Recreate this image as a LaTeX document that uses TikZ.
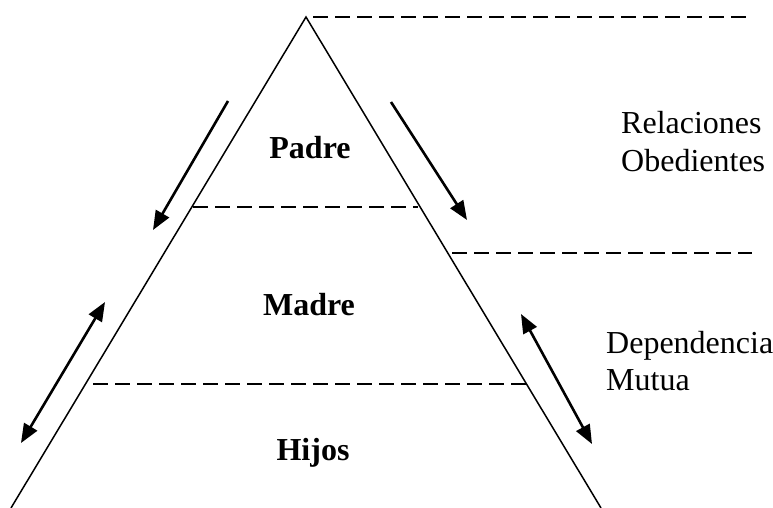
\documentclass[tikz,border=0pt]{standalone}
\usepackage{fontspec}
\setmainfont{Liberation Serif}
\usetikzlibrary{arrows.meta}
\begin{document}
\begin{tikzpicture}[x=1pt,y=-1pt,
  side/.style={line width=1.5pt},
  sep/.style={line width=2pt, dash pattern=on 15pt off 7pt},
  flow/.style={line width=2.6pt, -{Triangle[length=19pt,width=15pt]}},
  flow2/.style={line width=2.6pt, {Triangle[length=19pt,width=15pt]}-{Triangle[length=19pt,width=15pt]}},
  lvl/.style={font=\fontsize{32}{36}\selectfont\bfseries, anchor=base},
  note/.style={font=\fontsize{32}{36}\selectfont, anchor=base west, inner sep=0pt}]
\useasboundingbox (0,0) rectangle (773,508);
% triangle corners
\coordinate (apex) at (306,17);
\coordinate (bl) at (11,508);
\coordinate (br) at (601,508);
\draw[side] (bl) -- (apex) -- (br);
% separators
\coordinate (t1) at (313,17);  \coordinate (t2) at (750,17);
\coordinate (m1) at (452,253); \coordinate (m2) at (752,253);
\coordinate (u1) at (193,207); \coordinate (u2) at (418,207);
\coordinate (l1) at (93,384);  \coordinate (l2) at (527,384);
\draw[sep] (t1) -- (t2);
\draw[sep] (m1) -- (m2);
\draw[sep] (u1) -- (u2);
\draw[sep] (l1) -- (l2);
% arrows
\coordinate (a1s) at (228,101); \coordinate (a1e) at (153,230);
\coordinate (a2s) at (391,102); \coordinate (a2e) at (467,220);
\coordinate (a3s) at (105,302); \coordinate (a3e) at (21,443);
\coordinate (a4s) at (521,314); \coordinate (a4e) at (592,444);
\draw[flow] (a1s) -- (a1e);
\draw[flow] (a2s) -- (a2e);
\draw[flow2] (a3s) -- (a3e);
\draw[flow2] (a4s) -- (a4e);
% labels
\node[lvl] (padre) at (310,158) {Padre};
\node[lvl] (madre) at (309,315) {Madre};
\node[lvl] (hijos) at (313,460) {Hijos};
\node[note] (rel) at (621,134) {Relaciones};
\node[note] (obe) at (621,171) {Obedientes};
\node[note] (dep) at (606,353) {Dependencia};
\node[note] (mut) at (606,390) {Mutua};
\end{tikzpicture}
\end{document}
